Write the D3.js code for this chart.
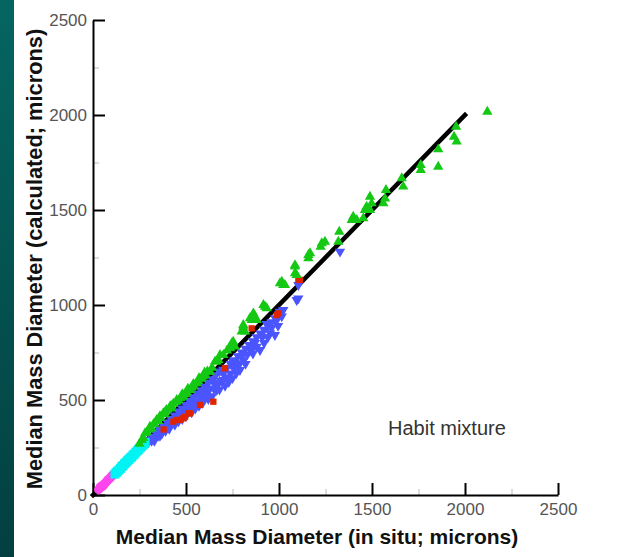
<!DOCTYPE html>
<html>
<head>
<meta charset="utf-8">
<style>
    body { margin: 0; background: #fff; }
    svg { display: block; font-family: 'Liberation Sans', Arial, Helvetica, sans-serif; }
    .tick text { fill: #555; font-size: 17px; }
    .axis-title { font-weight: bold; font-size: 21px; fill: #111; }
    .note { font-size: 20px; fill: #333; }
</style>
</head>
<body>
<svg width="623" height="557"></svg>
<script src="https://d3js.org/d3.v7.min.js"></script>
<script>
    // values, [in situ, calculated] in microns
    let magenta = [[30,28],[38,42],[45,40],[50,50],[55,48],[60,58],[65,62],[70,68],[75,72],[80,80],[85,82],[90,88],[95,92],[100,100],[105,102],[110,108],[114,114],[120,116],[125,122]]
    let cyan = [[118,110],[125,118],[132,125],[140,132],[148,140],[155,150],[162,155],[170,165],[178,172],[185,180],[192,186],[200,195],[208,200],[215,210],[222,215],[230,225],[238,232],[245,240],[252,248],[260,255],[268,262],[275,270],[280,276]]
    let red = [[380,345],[432,386],[450,395],[468,395],[486,404],[495,412],[512,430],[522,430],[575,474],[647,491],[710,667],[853,877],[988,947],[996,956],[1104,1132],[1113,1132]]
    let blue = [[265,262],[275,258],[285,282],[295,275],[300,288],[305,290],[315,285],[320,300],[320,305],[330,285],[330,296],[340,322],[342,325],[350,312],[360,312],[360,335],[360,345],[370,322],[380,350],[380,362],[390,338],[390,340],[400,362],[400,382],[410,348],[420,372],[420,380],[420,400],[432,395],[440,370],[440,418],[450,400],[450,402],[460,388],[460,440],[470,415],[480,400],[480,430],[480,455],[490,430],[500,415],[500,475],[510,445],[510,460],[520,495],[522,465],[530,435],[540,470],[540,490],[540,515],[550,455],[560,490],[560,532],[570,470],[570,515],[580,505],[580,552],[590,485],[600,520],[600,540],[600,545],[600,570],[611,535],[620,505],[620,590],[629,560],[640,520],[640,610],[650,560],[650,590],[660,630],[665,553],[670,580],[680,555],[680,650],[690,600],[700,640],[700,660],[701,605],[710,575],[720,620],[720,670],[730,595],[740,640],[740,690],[750,615],[750,680],[754,700],[760,665],[760,710],[770,640],[780,680],[780,730],[790,693],[790,658],[800,730],[800,750],[810,710],[820,690],[820,770],[830,740],[840,790],[844,790],[850,760],[850,780],[860,745],[860,810],[870,800],[880,781],[880,830],[898,763],[900,850],[910,830],[920,800],[920,870],[934,900],[940,830],[940,890],[950,900],[952,851],[960,880],[960,910],[978,842],[980,930],[988,921],[995,890],[1000,950],[1005,965],[1015,940],[1023,974],[1095,1026],[1104,1035],[1104,1105],[1328,1281]]
    let green = [[250,270],[262,289],[270,300],[280,325],[290,330],[300,345],[306,359],[315,350],[325,372],[330,375],[342,395],[350,390],[360,405],[360,415],[378,430],[385,425],[390,440],[395,448],[414,465],[420,455],[420,470],[432,480],[450,491],[450,500],[460,498],[470,510],[480,530],[486,517],[495,530],[505,540],[510,560],[522,553],[530,565],[540,572],[540,585],[557,588],[565,600],[570,615],[575,612],[584,614],[593,623],[600,645],[602,632],[615,650],[629,649],[640,670],[656,702],[665,702],[674,711],[683,737],[701,737],[720,760],[737,772],[737,781],[746,798],[754,807],[763,781],[799,860],[808,886],[808,895],[817,860],[844,930],[853,921],[862,947],[862,956],[871,938],[880,921],[916,1000],[925,991],[934,983],[1005,1114],[1015,1123],[1023,1105],[1032,1105],[1086,1202],[1086,1167],[1095,1158],[1086,1210],[1158,1246],[1158,1263],[1167,1272],[1224,1307],[1230,1325],[1247,1333],[1319,1333],[1324,1386],[1391,1447],[1399,1465],[1418,1447],[1453,1456],[1462,1500],[1471,1517],[1489,1500],[1489,1570],[1498,1535],[1561,1535],[1570,1561],[1575,1605],[1660,1667],[1668,1623],[1762,1711],[1762,1737],[1856,1728],[1856,1819],[1941,1886],[1955,1860],[1952,1938],[2120,2017]]
    let fitLine = [[0,0],[2000,2000]]
    let majorTicks = [0, 500, 1000, 1500, 2000, 2500]
    let minorTicks = [250, 750, 1250, 1750, 2250]

    let svg = d3.select("svg")

    // dark teal strip on the left edge
    let grad = svg.append("defs").append("linearGradient")
        .attr("id", "strip").attr("x1", 0).attr("y1", 0).attr("x2", 0).attr("y2", 1)
    grad.append("stop").attr("offset", "0%").attr("stop-color", "#056661")
    grad.append("stop").attr("offset", "100%").attr("stop-color", "#033f40")
    svg.append("rect").attr("x", 0).attr("y", 0).attr("width", 14).attr("height", 557)
        .style("fill", "url(#strip)")

    let x = d3.scaleLinear().domain([0, 2500]).range([93, 558])
    let y = d3.scaleLinear().domain([0, 2500]).range([495, 20])

    // minor ticks first, grey and short
    svg.append("g")
        .attr("transform", "translate(0,495)")
        .call(d3.axisBottom(x).tickValues(minorTicks).tickSizeInner(-6).tickSizeOuter(0).tickFormat(""))
        .call(g => g.select(".domain").remove())
        .call(g => g.selectAll("line").style("stroke", "#bbb").style("stroke-width", 1))
    svg.append("g")
        .attr("transform", "translate(93,0)")
        .call(d3.axisLeft(y).tickValues(minorTicks).tickSizeInner(-6).tickSizeOuter(0).tickFormat(""))
        .call(g => g.select(".domain").remove())
        .call(g => g.selectAll("line").style("stroke", "#bbb").style("stroke-width", 1))

    let xAxis = svg.append("g")
        .attr("transform", "translate(0,495)")
        .call(d3.axisBottom(x).tickValues(majorTicks).tickFormat(d3.format("d")).tickSizeInner(-12).tickSizeOuter(0).tickPadding(7))
    let yAxis = svg.append("g")
        .attr("transform", "translate(93,0)")
        .call(d3.axisLeft(y).tickValues(majorTicks).tickFormat(d3.format("d")).tickSizeInner(-12).tickSizeOuter(0).tickPadding(6))

    for (let g of [xAxis, yAxis]) {
        g.select(".domain").style("stroke", "#000").style("stroke-width", 2)
        g.selectAll(".tick line").style("stroke", "#000").style("stroke-width", 2)
        g.selectAll(".tick text").style("font-family", "inherit")
    }
    xAxis.selectAll(".tick text").attr("dy", "0.75em")

    let tri = d3.symbol().type(d3.symbolTriangle).size(46)
    let place = d => "translate(" + x(d[0]) + "," + y(d[1]) + ")"

    // 1:1 line sits under the markers
    svg.append("path")
        .datum(fitLine)
        .attr("d", d3.line().x(d => x(d[0])).y(d => y(d[1])))
        .style("stroke", "#000")
        .style("stroke-width", 4.5)
        .style("stroke-linecap", "square")
        .style("fill", "none")

    svg.append("g").selectAll("path")
        .data(blue)
        .join("path")
        .attr("d", tri)
        .attr("transform", d => place(d) + " rotate(180)")
        .style("fill", "#4a55ff")

    svg.append("g").selectAll("path")
        .data(red)
        .join("path")
        .attr("d", d3.symbol().type(d3.symbolSquare).size(40))
        .attr("transform", place)
        .style("fill", "#e02400")

    svg.append("g").selectAll("circle")
        .data(magenta)
        .join("circle")
        .attr("cx", d => x(d[0]))
        .attr("cy", d => y(d[1]))
        .attr("r", 4.5)
        .style("fill", "#ff44ee")

    svg.append("g").selectAll("path")
        .data(cyan)
        .join("path")
        .attr("d", d3.symbol().type(d3.symbolSquare).size(81))
        .attr("transform", place)
        .style("fill", "#00f4f4")

    svg.append("g").selectAll("path")
        .data(green)
        .join("path")
        .attr("d", tri)
        .attr("transform", place)
        .style("fill", "#14c814")

    svg.append("text")
        .attr("class", "axis-title")
        .attr("x", 317)
        .attr("y", 544)
        .attr("text-anchor", "middle")
        .text("Median Mass Diameter (in situ; microns)")

    svg.append("text")
        .attr("class", "axis-title")
        .style("font-size", "21.8px")
        .attr("transform", "translate(42,259) rotate(-90)")
        .attr("text-anchor", "middle")
        .text("Median Mass Diameter (calculated; microns)")

    svg.append("text")
        .attr("class", "note")
        .attr("x", 388)
        .attr("y", 435)
        .text("Habit mixture")
</script>
</body>
</html>
